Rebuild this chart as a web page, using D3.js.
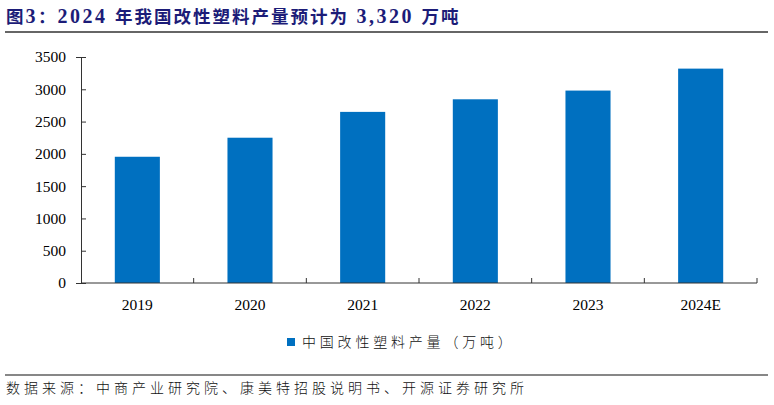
<!DOCTYPE html>
<html>
<head>
<meta charset="utf-8">
<script src="https://cdn.jsdelivr.net/npm/d3@7"></script>
<style>
  body { margin: 0; background: #fff; }
  svg text { font-family: "Liberation Serif", "Noto Sans CJK SC", serif; }
</style>
</head>
<body>
<div id="chart"></div>
<script>
const categories = ["2019", "2020", "2021", "2022", "2023", "2024E"];
const output = [1955, 2250, 2650, 2845, 2980, 3320];
const yTicks = [0, 500, 1000, 1500, 2000, 2500, 3000, 3500];
// title split into CJK and Latin runs (they use different fonts)
const titleParts = ["图", "3", "：", "2024 ", "年我国改性塑料产量预计为", " 3,320 ", "万吨"];
const legendText = "中国改性塑料产量（万吨）";
const sourceText = "数据来源：中商产业研究院、康美特招股说明书、开源证券研究所";

const W = 774, H = 405;
const MARGIN = { LEFT: 81, RIGHT: 17, TOP: 57, BOTTOM: 122 };
const WIDTH = W - MARGIN.LEFT - MARGIN.RIGHT;
const HEIGHT = H - MARGIN.TOP - MARGIN.BOTTOM;
const BLUE = "#0070C0";
const isCJK = s => /[\u3000-\u9fff\uff00-\uffef]/.test(s);

const svg = d3.select("#chart").append("svg")
  .attr("width", W)
  .attr("height", H);

// title + rules
const title = svg.append("text")
  .attr("x", 6)
  .attr("y", 23)
  .attr("font-weight", "bold")
  .attr("fill", "#1c1c78");
title.selectAll("tspan")
  .data(titleParts)
  .enter().append("tspan")
  .attr("font-family", d => isCJK(d) ? "'Noto Sans CJK SC', sans-serif" : "'Liberation Serif', serif")
  .attr("font-size", d => isCJK(d) ? "17.5px" : "20px")
  .attr("letter-spacing", d => isCJK(d) ? "2px" : "2.5px")
  .style("white-space", "pre")
  .text(d => d);

svg.append("line")
  .attr("x1", 5).attr("x2", 768)
  .attr("y1", 32).attr("y2", 32)
  .attr("stroke", "#333").attr("stroke-width", 1.5);

svg.append("line")
  .attr("x1", 5).attr("x2", 768)
  .attr("y1", 375).attr("y2", 375)
  .attr("stroke", "#111").attr("stroke-width", 1.2);

svg.append("text")
  .attr("x", 6)
  .attr("y", 393)
  .attr("font-size", "14px")
  .attr("font-family", "'Noto Sans CJK SC', sans-serif")
  .attr("font-weight", 300)
  .attr("letter-spacing", "4px")
  .attr("fill", "#111")
  .text(sourceText);

const g = svg.append("g")
  .attr("transform", `translate(${MARGIN.LEFT}, ${MARGIN.TOP})`);

// scales
const x = d3.scaleBand().domain(categories).range([0, WIDTH]).padding(0);
const y = d3.scaleLinear().domain([0, 3500]).range([HEIGHT, 0]);

// bars
const barW = x.bandwidth() * 0.4;
g.selectAll(".bar")
  .data(categories)
  .enter().append("rect")
  .attr("class", "bar")
  .attr("x", d => x(d) + (x.bandwidth() - barW) / 2)
  .attr("width", barW)
  .attr("y", (d, i) => y(output[i]))
  .attr("height", (d, i) => HEIGHT - y(output[i]))
  .attr("fill", BLUE);

// y axis
const yAxis = g.append("g")
  .call(d3.axisLeft(y).tickValues(yTicks).tickSize(5).tickPadding(12).tickFormat(d3.format("d")));
yAxis.select(".domain").attr("stroke", "#333");
yAxis.selectAll(".tick line").attr("stroke", "#333").attr("x2", 5).attr("x1", 0);
yAxis.selectAll(".tick text")
  .attr("font-size", "15.5px")
  .attr("font-family", "'Liberation Serif', serif")
  .attr("fill", "#000")
  .attr("x", -15);

// x axis: ticks at category boundaries
const xAxis = g.append("g")
  .attr("transform", `translate(0, ${HEIGHT})`);
xAxis.append("line")
  .attr("x1", 0).attr("x2", WIDTH)
  .attr("stroke", "#333");
xAxis.selectAll(".xtick")
  .data(categories)
  .enter().append("line")
  .attr("x1", d => x(d) + x.bandwidth())
  .attr("x2", d => x(d) + x.bandwidth())
  .attr("y1", 0).attr("y2", -5)
  .attr("stroke", "#333");
xAxis.selectAll(".xlabel")
  .data(categories)
  .enter().append("text")
  .attr("x", d => x(d) + x.bandwidth() / 2)
  .attr("y", 27)
  .attr("text-anchor", "middle")
  .attr("font-size", "15.5px")
  .attr("fill", "#000")
  .text(d => d);

// legend
const legend = svg.append("g").attr("transform", "translate(287, 338)");
legend.append("rect")
  .attr("width", 8).attr("height", 8)
  .attr("fill", BLUE);
legend.append("text")
  .attr("x", 15)
  .attr("y", 8.5)
  .attr("font-size", "14px")
  .attr("font-family", "'Noto Sans CJK SC', sans-serif")
  .attr("font-weight", 300)
  .attr("letter-spacing", "3.8px")
  .attr("fill", "#111")
  .text(legendText);
</script>
</body>
</html>
